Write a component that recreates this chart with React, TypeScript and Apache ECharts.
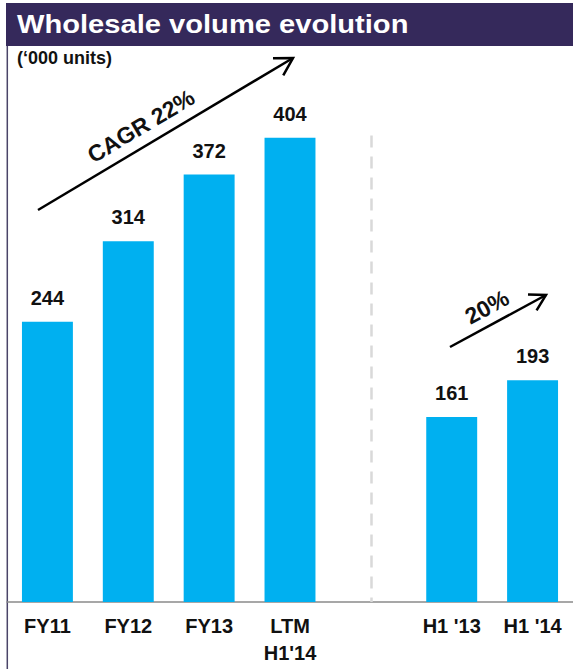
import React, { useEffect, useRef } from "react";
import * as echarts from "echarts";

const categories = ["FY11", "FY12", "FY13", "LTM\nH1'14", "", "H1 '13", "H1 '14"];
const volumes: (number | string)[] = [244, 314, 372, 404, "-", 161, 193];
const titleText = "Wholesale volume evolution";
const unitText = "(\u2018000 units)";
const cagrText = "CAGR 22%";
const halfGrowthText = "20%";
const dividerIndex = 4;
const dividerTopValue = 406;

const FONT = "'Liberation Sans', Arial, Helvetica, sans-serif";

function arrow(tail: number[], tip: number[], wing: number, width: number) {
  const dx = tip[0] - tail[0];
  const dy = tip[1] - tail[1];
  const len = Math.sqrt(dx * dx + dy * dy);
  const ux = -dx / len;
  const uy = -dy / len;
  const a = Math.PI / 6;
  const w1 = [tip[0] + wing * (Math.cos(a) * ux - Math.sin(a) * uy), tip[1] + wing * (Math.sin(a) * ux + Math.cos(a) * uy)];
  const w2 = [tip[0] + wing * (Math.cos(-a) * ux - Math.sin(-a) * uy), tip[1] + wing * (Math.sin(-a) * ux + Math.cos(-a) * uy)];
  return [
    { type: "line", shape: { x1: tail[0], y1: tail[1], x2: tip[0], y2: tip[1] }, style: { stroke: "#000", lineWidth: width } },
    { type: "polyline", shape: { points: [w1, tip, w2] }, style: { stroke: "#000", lineWidth: width, fill: null } },
  ];
}

export default function App() {
  const ref = useRef<HTMLDivElement>(null);
  useEffect(() => {
    if (!ref.current) return;
    const chart = echarts.init(ref.current, null, { renderer: "svg" });
    chart.setOption({
      animation: false,
      backgroundColor: "#ffffff",
      grid: { left: 7, right: 0, top: 85, bottom: 67 },
      xAxis: {
        type: "category",
        data: categories,
        axisLine: { show: true, lineStyle: { color: "#8a8a8a", width: 1.5 } },
        axisTick: { show: false },
        axisLabel: {
          interval: 0,
          margin: 11,
          fontFamily: FONT,
          fontWeight: "bold",
          fontSize: 20,
          lineHeight: 26.5,
          color: "#111",
        },
      },
      yAxis: { type: "value", min: 0, max: 450, show: false, splitLine: { show: false } },
      series: [
        {
          type: "bar",
          data: volumes,
          barWidth: "63%",
          itemStyle: { color: "#00b0f0" },
          label: {
            show: true,
            position: "top",
            distance: 14,
            fontFamily: FONT,
            fontWeight: "bold",
            fontSize: 20,
            color: "#111",
          },
          markLine: {
            silent: true,
            symbol: ["none", "none"],
            label: { show: false },
            lineStyle: { color: "#d9d9d9", width: 2.5, type: [12, 9] },
            data: [[{ coord: [dividerIndex, dividerTopValue] }, { coord: [dividerIndex, 0] }]],
          },
        },
      ],
      graphic: [
        { type: "rect", shape: { x: 6, y: 3, width: 567, height: 43 }, style: { fill: "#35295b" } },
        {
          type: "text",
          x: 17,
          y: 24,
          scaleX: 1.12,
          style: { text: titleText, fill: "#fff", font: `bold 26px ${FONT}`, textVerticalAlign: "middle" },
        },
        { type: "line", shape: { x1: 7.3, y1: 46, x2: 7.3, y2: 669 }, style: { stroke: "#4a4468", lineWidth: 1.5 } },
        {
          type: "text",
          x: 17,
          y: 58,
          style: { text: unitText, fill: "#111", font: `bold 18px ${FONT}`, textVerticalAlign: "middle" },
        },
        ...arrow([38, 210], [293, 58], 20, 2.5),
        {
          type: "text",
          x: 141,
          y: 126,
          rotation: 0.537,
          style: { text: cagrText, fill: "#111", font: `bold 23px ${FONT}`, textAlign: "center", textVerticalAlign: "middle" },
        },
        ...arrow([450, 347], [546, 295], 18, 2.5),
        {
          type: "text",
          x: 487,
          y: 307,
          rotation: 0.496,
          style: { text: halfGrowthText, fill: "#111", font: `bold 23px ${FONT}`, textAlign: "center", textVerticalAlign: "middle" },
        },
      ],
    });
    return () => chart.dispose();
  }, []);
  return (
    <div
      ref={ref}
      style={{ position: "fixed", left: 0, top: 0, width: 573, height: 669, background: "#fff" }}
    />
  );
}
